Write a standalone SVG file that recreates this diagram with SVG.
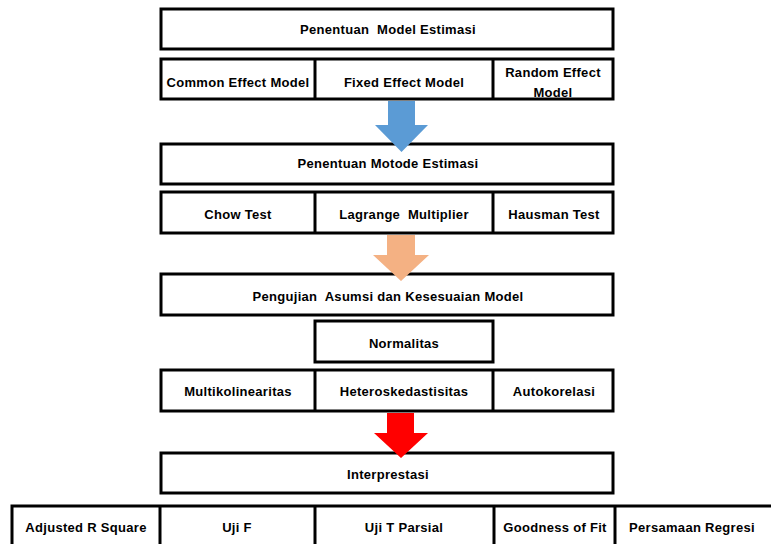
<svg xmlns="http://www.w3.org/2000/svg" width="771" height="544" viewBox="0 0 771 544">
<style>
rect.b{fill:#fff;stroke:#000;stroke-width:3}
line.d{stroke:#000;stroke-width:3}
text{font-family:"Liberation Sans",Arial,sans-serif;font-weight:bold;font-size:13px;letter-spacing:0.3px;text-anchor:middle;fill:#000;white-space:pre}
</style>
<rect width="771" height="544" fill="#fff"/>
<g id="penentuan-model">
<rect class="b" x="161" y="9" width="452" height="40"/>
<text x="388" y="34" xml:space="preserve">Penentuan  Model Estimasi</text>
</g>
<g id="model-row">
<rect class="b" x="161" y="59" width="452" height="40"/>
<line class="d" x1="315" y1="59" x2="315" y2="99"/>
<line class="d" x1="493" y1="59" x2="493" y2="99"/>
<text x="238" y="87">Common Effect Model</text>
<text x="404" y="87">Fixed Effect Model</text>
<text x="553" y="77">Random Effect</text>
<text x="553" y="97">Model</text>
</g>
<g id="penentuan-metode">
<rect class="b" x="161" y="144" width="452" height="40"/>
<text x="388" y="168">Penentuan Motode Estimasi</text>
</g>
<g id="test-row">
<rect class="b" x="161" y="192" width="452" height="41"/>
<line class="d" x1="315" y1="192" x2="315" y2="233"/>
<line class="d" x1="493" y1="192" x2="493" y2="233"/>
<text x="238" y="219">Chow Test</text>
<text x="404" y="219" xml:space="preserve">Lagrange  Multiplier</text>
<text x="554" y="219">Hausman Test</text>
</g>
<g id="pengujian">
<rect class="b" x="161" y="274" width="452" height="41"/>
<text x="388" y="301" xml:space="preserve">Pengujian  Asumsi dan Kesesuaian Model</text>
</g>
<g id="normalitas">
<rect class="b" x="315" y="321" width="178" height="41"/>
<text x="404" y="348">Normalitas</text>
</g>
<g id="asumsi-row">
<rect class="b" x="161" y="370" width="452" height="41"/>
<line class="d" x1="315" y1="370" x2="315" y2="411"/>
<line class="d" x1="493" y1="370" x2="493" y2="411"/>
<text x="238" y="396">Multikolinearitas</text>
<text x="404" y="396">Heteroskedastisitas</text>
<text x="554" y="396">Autokorelasi</text>
</g>
<g id="interprestasi">
<rect class="b" x="161" y="453" width="452" height="40"/>
<text x="388" y="479">Interprestasi</text>
</g>
<g id="hasil-row">
<rect class="b" x="12" y="506" width="766" height="50"/>
<line class="d" x1="160" y1="506" x2="160" y2="556"/>
<line class="d" x1="315" y1="506" x2="315" y2="556"/>
<line class="d" x1="494" y1="506" x2="494" y2="556"/>
<line class="d" x1="615" y1="506" x2="615" y2="556"/>
<text x="86" y="532">Adjusted R Square</text>
<text x="237" y="532">Uji F</text>
<text x="404" y="532">Uji T Parsial</text>
<text x="555" y="532">Goodness of Fit</text>
<text x="692" y="532">Persamaan Regresi</text>
</g>
<g id="connectors">
<polygon fill="#5B9BD5" points="388,101 415,101 415,125 428,125 401.5,152 375,125 388,125"/>
<polygon fill="#F4B183" points="387,235 415,235 415,255 429,255 401,281 373,255 387,255"/>
<polygon fill="#FF0000" points="387,413 414,413 414,433 428,433 401,458 374,433 387,433"/>
</g>
</svg>
